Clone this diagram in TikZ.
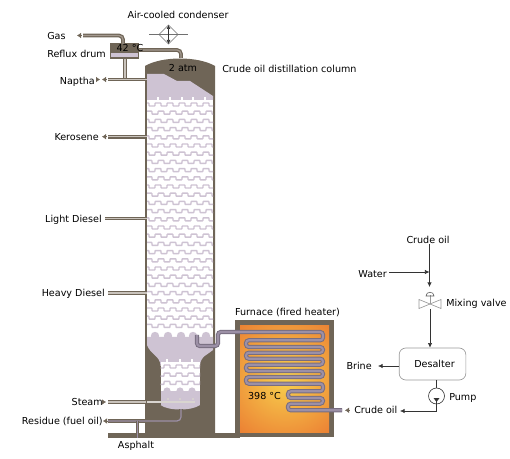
\documentclass[tikz,border=0pt]{standalone}
\usepackage{fontspec}
\setmainfont{DejaVu Sans}
\usetikzlibrary{arrows.meta}
\definecolor{wallc}{HTML}{6F6557}
\definecolor{liq}{HTML}{CEC3D3}
\definecolor{pipein}{HTML}{C9C3BC}
\definecolor{pipedk}{HTML}{A49A90}
\definecolor{tubeo}{HTML}{776D80}
\definecolor{tubei}{HTML}{9C90A6}
\definecolor{flowc}{HTML}{333333}
\definecolor{equip}{HTML}{9A9A9A}
\definecolor{firehot}{HTML}{F8D24E}
\definecolor{fireout}{HTML}{E9702E}
\tikzset{
  x=0.75pt,y=-0.75pt,
  lbl/.style={font=\fontsize{7.2}{8}\selectfont,inner sep=0pt,text=black},
  pipe/.style={draw=wallc,line width=0.95pt,double=pipein,double distance=0.9pt,rounded corners=3pt},
  pipeg/.style={draw=wallc,line width=0.95pt,double=pipedk,double distance=0.9pt,rounded corners=3pt},
  purp/.style={draw=wallc,line width=0.95pt,double=tubei,double distance=0.9pt,rounded corners=3pt},
  tube/.style={draw=tubeo,line width=0.75pt,double=tubei,double distance=1.6pt,rounded corners=2.1pt},
  wave/.style={draw=liq,line width=1.1pt,rounded corners=0.5pt},
  tipg/.style={-{Latex[length=3pt,width=4pt,color=wallc]},draw=wallc,line width=0.3pt},
  flow/.style={draw=flowc,line width=0.45pt,-{Latex[length=3.4pt,width=3.2pt]}},
  line/.style={draw=flowc,line width=0.45pt},
  equipl/.style={draw=equip,line width=0.5pt},
}
\begin{document}
\begin{tikzpicture}
\useasboundingbox (0,0) rectangle (510,459);
% ground and furnace
\fill[wallc] (108,433) rectangle (240,438);
\fill[wallc] (235,320) rectangle (334,437);
\fill[white] (215,326) rectangle (235,432);
\begin{scope}
  \clip (240,326) rectangle (329,432);
  \fill[fireout] (240,326) rectangle (329,432);
  \shade[inner color=firehot,outer color=fireout] (285,378) circle [radius=85];
\end{scope}
% column shell
\fill[wallc] (145,433) -- (145,66) .. controls (162,56) and (198,56) .. (215,66) -- (215,433) -- cycle;
\fill[liq] (147,74) -- (164,74) -- (177,81) -- (190,81) -- (213,96) -- (213,100) -- (147,100) -- cycle;
\fill[white] (147,100) rectangle (213,337);
\fill[liq] (147,337) -- (213,337) -- (213,350) .. controls (209,354) and (200,356) .. (200,366) -- (160.5,366) .. controls (160.5,356) and (150,354) .. (147,345) -- cycle;
\fill[white] (160.5,362) rectangle (200,391);
\fill[liq] (160.5,358) rectangle (200,362);
\fill[liq] (160.5,391) rectangle (200,405);
\fill[liq] (160.5,405) .. controls (168,411) and (192,411) .. (200,405) -- cycle;
% trays of the upper section
\begin{scope}
  \clip (147,96) rectangle (213,340);
  \foreach \r in {0,...,27}{
    \pgfmathsetmacro\ry{106+8.2*\r}
    \pgfmathsetmacro\sh{mod(\r,2)*3}
    \foreach \c in {146,158,170,182,194,206,218}{
      \draw[wave] ({\c+\sh-6},\ry) -- ({\c+\sh-3},\ry) -- ({\c+\sh-3},\ry-3) -- ({\c+\sh+3},\ry-3) -- ({\c+\sh+3},\ry) -- ({\c+\sh+6},\ry);
    }
  }
  \foreach \c in {155,168,181,193,206}{
    \fill[liq] (\c,336) circle [radius=4.2];
  }
  \foreach \c in {158,170,182,193,205}{
    \fill[white] (\c-0.6,97) rectangle (\c+0.6,101);
  }
\end{scope}
% trays of the neck
\begin{scope}
  \clip (160.5,358) rectangle (200,395);
  \foreach \r in {0,1,2}{
    \pgfmathsetmacro\ry{368+8.2*\r}
    \foreach \c in {155,167,179,191,203}{
      \draw[wave] ({\c-6},\ry) -- ({\c-3},\ry) -- ({\c-3},\ry-3) -- ({\c+3},\ry-3) -- ({\c+3},\ry) -- ({\c+6},\ry);
    }
  }
  \foreach \c in {167,180,192}{
    \fill[liq] (\c,391) circle [radius=3.6];
    \fill[white] (\c-0.6,359) rectangle (\c+0.6,363);
  }
\end{scope}
% furnace coil
\coordinate (coilin) at (197,335);
\coordinate (coilout) at (342,410.3);
\draw[tube] (coilin) -- (197,346) -- (218,346) -- (218,332) -- (323,332) -- (323,340.3) -- (246,340.3) -- (246,347) -- (323,347) -- (323,352.7) -- (246,352.7) -- (246,358.7) -- (323,358.7) -- (323,364.7) -- (246,364.7) -- (246,371) -- (323,371) -- (323,377) -- (246,377) -- (246,383.7) -- (323,383.7) -- (323,391.3) -- (288,391.3) -- (288,398) -- (323,398) -- (323,403.7) -- (288,403.7) -- (288,410.3) -- (coilout);
% drum
\node[draw=none,fill=wallc,minimum width=21.75pt,minimum height=12pt,inner sep=0pt] (drum) at (124.5,51) {};
\fill[liq] (111,53) rectangle (138,57);
% named ends of the pipes
\coordinate (gasend) at (83,35.5);
\coordinate (napend) at (108,79.5);
\coordinate (napin) at (147,79.5);
\coordinate (keroend) at (108,136.7);
\coordinate (keroin) at (147,136.7);
\coordinate (ligend) at (105,218.5);
\coordinate (ligin) at (147,218.5);
\coordinate (heavend) at (108,293);
\coordinate (heavin) at (147,293);
\coordinate (steamend) at (108,402);
\coordinate (steamin) at (146,402);
\coordinate (resend) at (108,421);
\coordinate (colbot) at (181,409);
\coordinate (aspend) at (137.5,438);
\coordinate (coltop) at (181,58);
\draw[pipeg] (gasend) -- (123,35.5) -- (123,44);
\draw[pipeg] (139,50) -- (181,50) -- (coltop);
\draw[pipe] (125,59) -- (125,79.5);
\draw[pipe] (napend) -- (napin);
\draw[pipe] (keroend) -- (keroin);
\draw[pipe] (ligend) -- (ligin);
\draw[pipe] (heavend) -- (heavin);
\draw[pipe] (steamend) -- (steamin);
\draw[line width=0.9pt,draw=pipein!70!white] (147,402) -- (195,402);
\foreach \c in {168,180,193}{\fill[pipein!70!white] (\c,399) circle [radius=1.1];}
\draw[purp] (resend) -- (181,421) -- (colbot);
\draw[purp,rounded corners=0pt] (137.5,421) -- (aspend);
% outlet tips
\coordinate (t1a) at (81,35.5); \coordinate (t1b) at (77,35.5);
\coordinate (t2a) at (106,79.5); \coordinate (t2b) at (102,79.5);
\coordinate (t3a) at (97,79.5); \coordinate (t3b) at (100,79.5);
\coordinate (t4a) at (106,136.7); \coordinate (t4b) at (102,136.7);
\coordinate (t6a) at (103,402); \coordinate (t6b) at (106,402);
\coordinate (t7a) at (107,421); \coordinate (t7b) at (103,421);
\coordinate (t8a) at (349,410.3); \coordinate (t8b) at (345,410.3);
\foreach \a/\b in {t1a/t1b,t2a/t2b,t3a/t3b,t4a/t4b,t6a/t6b,t7a/t7b,t8a/t8b}{\draw[tipg] (\a) -- (\b);}
% condenser
\coordinate (cL) at (149,34.5);
\coordinate (cR) at (188,34.5);
\coordinate (cT) at (168.5,25);
\coordinate (cB) at (168.5,44);
\draw[equipl,draw=flowc!70!white] (168.5,25) -- (178,34.5) -- (168.5,44) -- (159,34.5) -- cycle;
\draw[equipl,draw=flowc!70!white] (cL) -- (cR);
\draw[line width=0.5pt,draw=flowc,{Latex[length=3pt,width=3pt]}-{Latex[length=3pt,width=3pt]}] (cT) -- (cB);
% labels at the column
\node[lbl] (lcond) at (178,15) {Air-cooled condenser};
\node[lbl,anchor=west] (lgas) at (47,36) {Gas};
\node[lbl,anchor=west] (lref) at (47,54) {Reflux drum};
\node[lbl] (ltemp) at (130,48.5) {42 °C};
\node[lbl] (latm) at (183,68.5) {2 atm};
\node[lbl,anchor=west] (lcol) at (222,68.5) {Crude oil distillation column};
\node[lbl,anchor=east] (lnap) at (95,82) {Naptha};
\node[lbl,anchor=east] (lker) at (99,137) {Kerosene};
\node[lbl,anchor=east] (llig) at (102,220) {Light Diesel};
\node[lbl,anchor=east] (lhea) at (105,294) {Heavy Diesel};
\node[lbl,anchor=east] (lste) at (103,402) {Steam};
\node[lbl,anchor=east] (lres) at (103,421) {Residue (fuel oil)};
\node[lbl] (lasp) at (136,446) {Asphalt};
\node[lbl] (lfur) at (287.5,312) {Furnace (fired heater)};
\node[lbl] (lfir) at (264.5,396) {398 °C};
% desalter train
\node[lbl] (ctop) at (428,240) {Crude oil};
\node[lbl,anchor=east] (wat) at (387,274) {Water};
\node[lbl,anchor=west] (mix) at (446,304) {Mixing valve};
\node[draw=equip,line width=0.5pt,rounded corners=5pt,minimum width=50pt,minimum height=24pt,inner sep=0pt,font=\fontsize{7.2}{8}\selectfont] (des) at (432.5,364) {\hspace*{3pt}Desalter};
\node[lbl,anchor=east] (bri) at (372,366) {Brine};
\node[draw=flowc,line width=0.45pt,circle,minimum size=12pt,inner sep=0pt] (pump) at (436.5,396) {};
\node[lbl,anchor=west] (lpu) at (449,398) {Pump};
\node[lbl,anchor=west] (cbot) at (354,410) {Crude oil};
\coordinate (vc) at (430,304);
\coordinate (vin) at (429.5,287);
\coordinate (join) at (429.5,272);
\coordinate (crudes) at (429.5,244);
\coordinate (wats) at (389,272);
\coordinate (brinee) at (378,366);
\draw[flow] (crudes) -- (vin);
\draw[flow] (wats) -- (join);
\draw[equipl] (vc) -- (419,299.5) -- (419,308.5) -- cycle;
\draw[equipl] (vc) -- (441,299.5) -- (441,308.5) -- cycle;
\draw[equipl] (vc) -- (430,295);
\draw[line width=0.45pt,draw=flowc!80!white] (426,296) .. controls (426,291) and (434,291) .. (434,296) -- cycle;
\draw[flow] (430,309) -- (des.north -| vc);
\draw[line] (des.south -| pump) -- (pump.north);
\coordinate (pumpo) at (436.5,411);
\coordinate (pumpe) at (400,411);
\draw[flow,rounded corners=0pt] (436.5,400) -- (pumpo) -- (pumpe);
\fill[flowc] (433.5,398) -- (439.5,398) -- (436.5,402) -- cycle;
\draw[flow] (des.west |- brinee) -- (brinee);
\end{tikzpicture}
\end{document}
